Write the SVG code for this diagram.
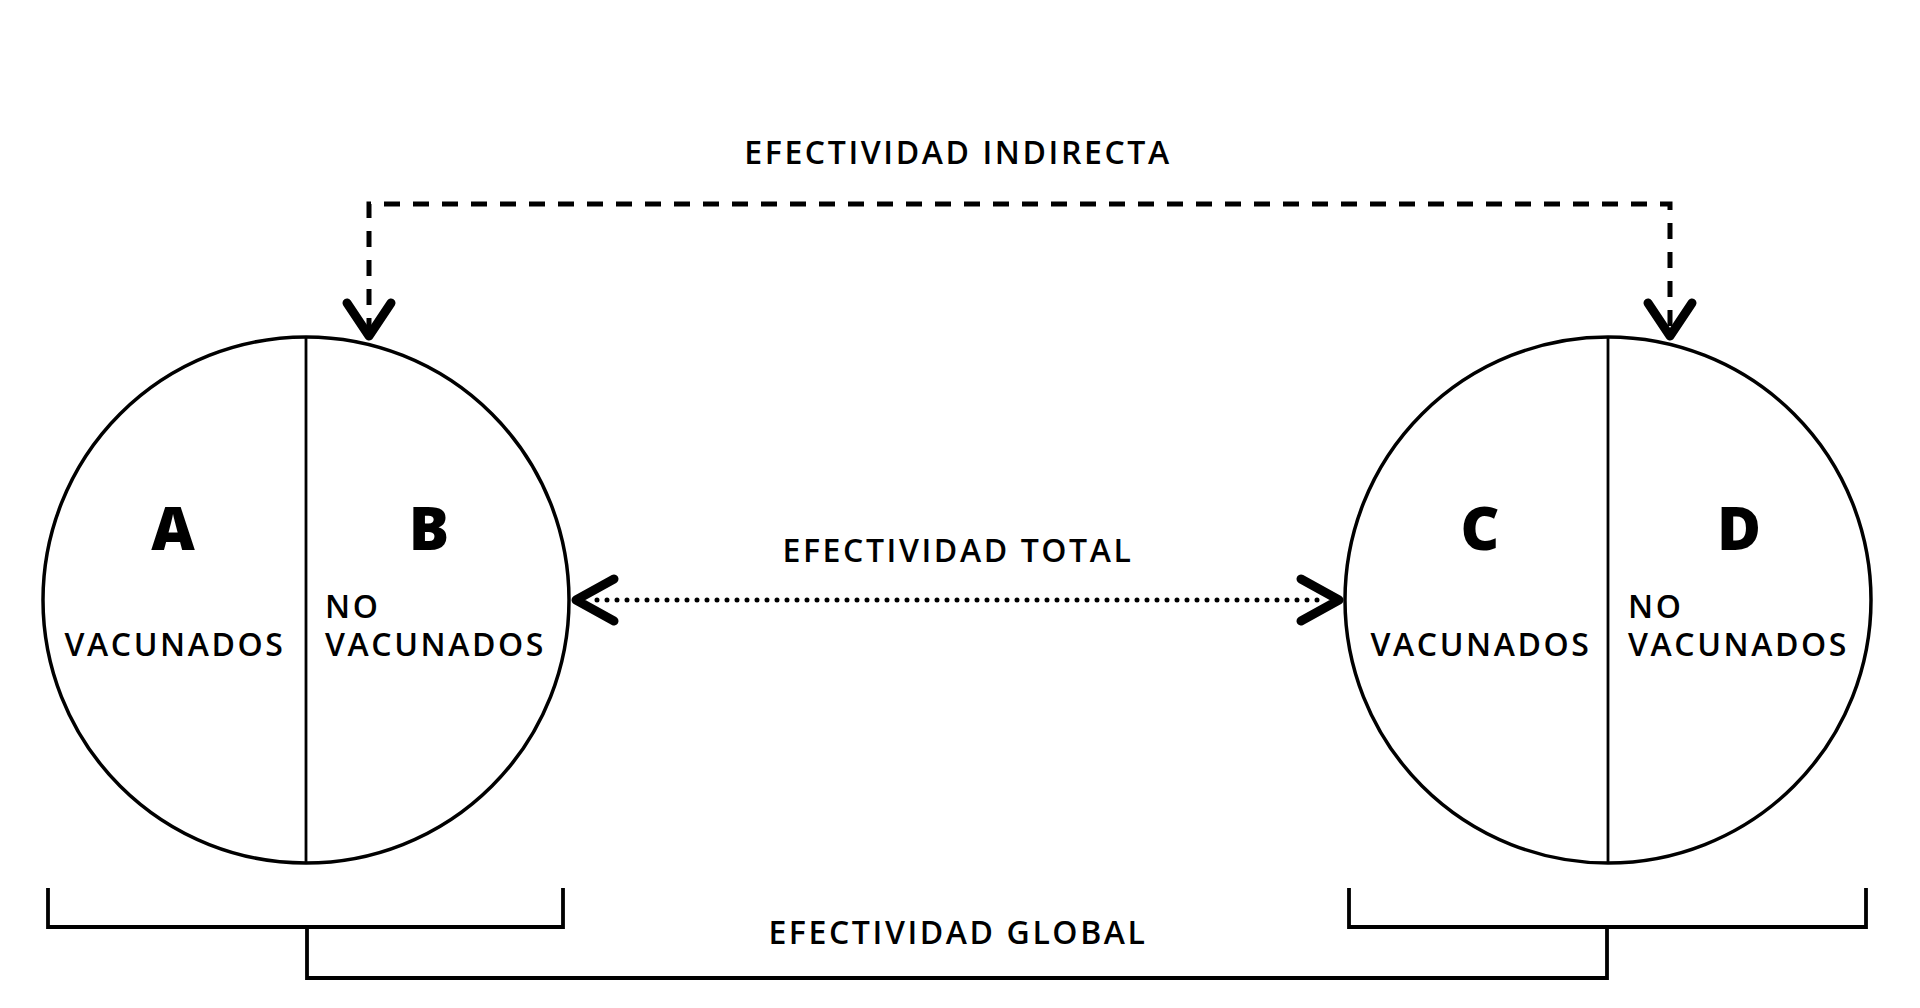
<svg xmlns="http://www.w3.org/2000/svg" width="1920" height="1008" viewBox="0 0 1920 1008">
<style>
.bg{fill:#fff}
.ring{fill:none;stroke:#000;stroke-width:3.5}
.div{stroke:#000;stroke-width:2.8}
.big{font-family:"Open Sans","DejaVu Sans",sans-serif;font-weight:800;font-size:60px;fill:#000;text-anchor:middle}
.lbl{font-family:"Open Sans","DejaVu Sans",sans-serif;font-weight:600;font-size:32px;letter-spacing:2.6px;fill:#000}
.mid{text-anchor:middle}
.dash{fill:none;stroke:#000;stroke-width:5;stroke-dasharray:16 13}
.dot{fill:none;stroke:#000;stroke-width:5;stroke-linecap:round;stroke-dasharray:0 10}
.head{fill:none;stroke:#000;stroke-width:9;stroke-linecap:round;stroke-linejoin:round}
.brk{fill:none;stroke:#000;stroke-width:3.8}
</style>
<rect class="bg" x="0" y="0" width="1920" height="1008"/>
<g id="left-population">
<circle class="ring" cx="306" cy="600" r="263"/>
<line class="div" x1="306" y1="337" x2="306" y2="863"/>
</g>
<g id="node-A">
<text class="big" x="173" y="550">A</text>
<text class="lbl mid" x="175" y="656">VACUNADOS</text>
</g>
<g id="node-B">
<text class="big" x="429" y="550">B</text>
<text class="lbl" x="325" y="618">NO</text>
<text class="lbl" x="325" y="656">VACUNADOS</text>
</g>
<g id="right-population">
<circle class="ring" cx="1608" cy="600" r="263"/>
<line class="div" x1="1608" y1="337" x2="1608" y2="863"/>
</g>
<g id="node-C">
<text class="big" x="1480" y="550">C</text>
<text class="lbl mid" x="1481" y="656">VACUNADOS</text>
</g>
<g id="node-D">
<text class="big" x="1739" y="550">D</text>
<text class="lbl" x="1628" y="618">NO</text>
<text class="lbl" x="1628" y="656">VACUNADOS</text>
</g>
<g id="connectors">
<path class="dash" d="M369,334 V204 H1670 V334"/>
<path class="head" d="M347,303 L369,336 L391,303"/>
<path class="head" d="M1648,303 L1670,336 L1692,303"/>
<line class="dot" x1="597" y1="600" x2="1322" y2="600"/>
<path class="head" d="M614,579 L576,600 L614,621"/>
<path class="head" d="M1301,579 L1339,600 L1301,621"/>
<path class="brk" d="M48,888 V927 H563 V888"/>
<path class="brk" d="M1349,888 V927 H1866 V888"/>
<path class="brk" d="M307,927 V978 H1607 V927"/>
</g>
<g id="labels">
<text class="lbl mid" x="958" y="164">EFECTIVIDAD INDIRECTA</text>
<text class="lbl mid" x="958" y="562">EFECTIVIDAD TOTAL</text>
<text class="lbl mid" x="958" y="944">EFECTIVIDAD GLOBAL</text>
</g>
</svg>
